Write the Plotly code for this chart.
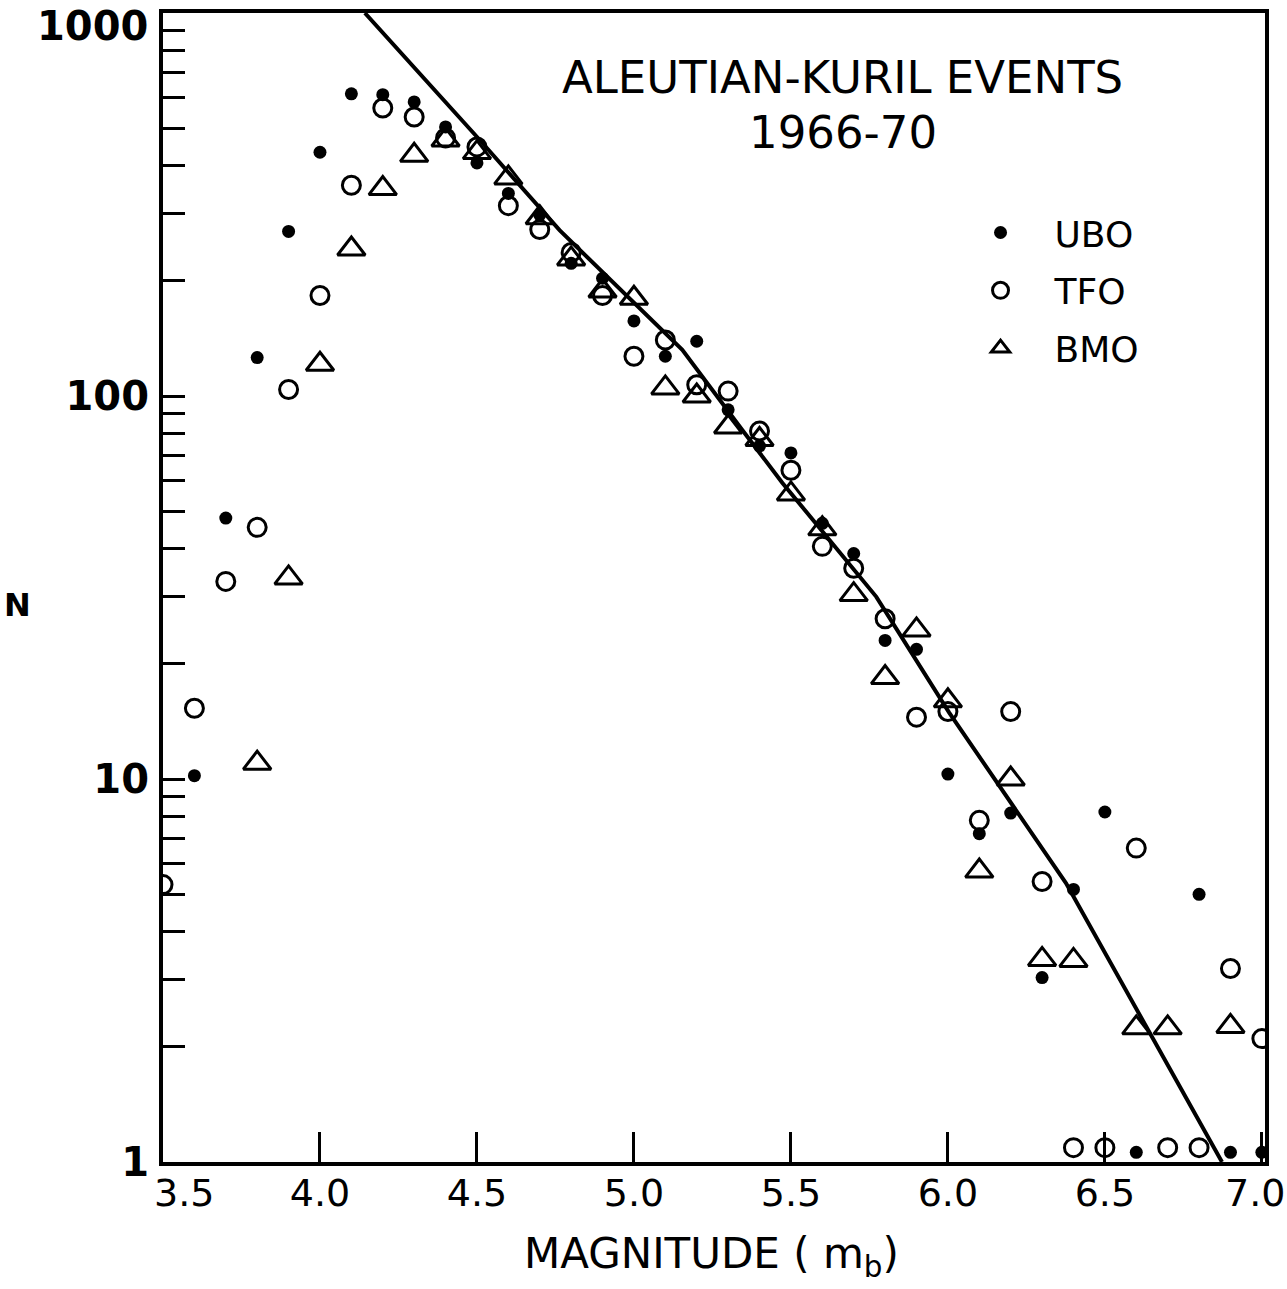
import plotly.graph_objects as go

# ---- data ----
ubo_m = [3.6, 3.7, 3.8, 3.9, 4.0, 4.1, 4.2, 4.3, 4.4, 4.5, 4.6, 4.7, 4.8, 4.9, 5.0, 5.1, 5.2,
         5.3, 5.4, 5.5, 5.6, 5.7, 5.8, 5.9, 6.0, 6.1, 6.2, 6.3, 6.4, 6.5, 6.6, 6.8, 6.9, 7.0]
ubo_n = [10.2, 48, 126, 269, 433, 615, 612, 586, 504, 406, 338, 297, 222, 203, 157, 127, 139,
         92, 74, 71, 46.5, 38.8, 23, 21.8, 10.3, 7.2, 8.15, 3.03, 5.15, 8.2, 1.06, 5.0, 1.06, 1.06]

tfo_m = [3.5, 3.6, 3.7, 3.8, 3.9, 4.0, 4.1, 4.2, 4.3, 4.4, 4.5, 4.6, 4.7, 4.8, 4.9, 5.0, 5.1, 5.2,
         5.3, 5.4, 5.5, 5.6, 5.7, 5.8, 5.9, 6.0, 6.1, 6.2, 6.3, 6.4, 6.5, 6.6, 6.7, 6.8, 6.9, 7.0]
tfo_n = [5.3, 15.3, 32.8, 45.4, 104, 183, 355, 565, 535, 472, 447, 314, 272, 237, 183, 127, 140, 107,
         103, 81, 64, 40.5, 35.5, 26.2, 14.5, 15, 7.8, 15, 5.4, 1.09, 1.09, 6.6, 1.09, 1.09, 3.2, 2.1]

bmo_m = [3.8, 3.9, 4.0, 4.1, 4.2, 4.3, 4.4, 4.5, 4.6, 4.7, 4.8, 4.9, 5.0, 5.1, 5.2, 5.3, 5.4, 5.5,
         5.6, 5.7, 5.8, 5.9, 6.0, 6.1, 6.2, 6.3, 6.4, 6.6, 6.7, 6.9]
bmo_n = [11.0, 33.5, 121, 242, 348, 425, 466, 432, 371, 292, 228, 188, 180, 105, 100, 83, 77, 55.5,
         45, 30.3, 18.4, 24.5, 16.0, 5.75, 10.0, 3.38, 3.36, 2.24, 2.24, 2.26]

fit_m = [4.143, 4.509, 4.763, 5.154, 5.345, 5.473, 5.772, 6.004, 6.376, 6.873]
fit_n = [1000, 466, 271, 132, 81.5, 59.3, 29.9, 14.9, 5.35, 1.0]

x_ticks = [3.5, 4.0, 4.5, 5.0, 5.5, 6.0, 6.5, 7.0]
x_tick_labels = ["", "4.0", "4.5", "5.0", "5.5", "6.0", "6.5", ""]
x_first_label = "3.5"
x_last_label = "7.0"
y_ticks = [1, 2, 3, 4, 5, 6, 7, 8, 9, 10, 20, 30, 40, 50, 60, 70, 80, 90, 100,
           200, 300, 400, 500, 600, 700, 800, 900, 1000]
y_major = {1: "1", 10: "10", 100: "100"}
y_top_label = "1000"

title_line1 = "ALEUTIAN-KURIL EVENTS"
title_line2 = "1966-70"

# ---- figure ----
fig = go.Figure()

fig.add_trace(go.Scatter(x=fit_m, y=fit_n, mode="lines",
                         line=dict(color="black", width=4), showlegend=False,
                         hoverinfo="skip"))

fig.add_trace(go.Scatter(x=ubo_m, y=ubo_n, mode="markers", name="UBO", legendgroup="a",
                         marker=dict(symbol="circle", size=13, color="black",
                                     line=dict(width=0))))
fig.add_trace(go.Scatter(x=tfo_m, y=tfo_n, mode="markers", name="TFO", legendgroup="b",
                         marker=dict(symbol="circle-open", size=18, color="black",
                                     line=dict(width=3, color="black"))))
fig.add_trace(go.Scatter(x=bmo_m, y=bmo_n, mode="markers", name="BMO", legendgroup="c",
                         marker=dict(symbol="triangle-up-open", size=24, color="black",
                                     line=dict(width=3, color="black"))))

tick_font = dict(family="DejaVu Sans", size=38, color="black")
ytick_font = dict(family="DejaVu Sans", size=40, color="black", weight="bold")

fig.update_xaxes(range=[3.5, 7.01], tickmode="array", tickvals=x_ticks, ticktext=x_tick_labels,
                 ticks="inside", ticklen=30, tickwidth=3, tickcolor="black",
                 showline=True, linewidth=4, linecolor="black", mirror=True,
                 showgrid=False, zeroline=False, tickfont=tick_font, ticklabelstandoff=-6,
                 ticklabeloverflow="allow", automargin=False)

fig.update_yaxes(type="log", range=[0, 3], tickmode="array", tickvals=y_ticks,
                 ticktext=[y_major.get(v, "") for v in y_ticks],
                 ticks="inside", ticklen=22, tickwidth=3, tickcolor="black",
                 showline=True, linewidth=4, linecolor="black", mirror=True,
                 showgrid=False, zeroline=False, ticklabelstandoff=2,
                 ticklabeloverflow="allow", automargin=False, tickfont=ytick_font)

# edge tick labels nudged inward as in the reference
fig.add_annotation(text=x_first_label, x=x_ticks[0], y=0, xref="x", yref="paper",
                   xshift=21, yshift=-31, showarrow=False, font=tick_font,
                   xanchor="center", yanchor="middle")
fig.add_annotation(text=x_last_label, x=x_ticks[-1], y=0, xref="x", yref="paper",
                   xshift=-7, yshift=-31, showarrow=False, font=tick_font,
                   xanchor="center", yanchor="middle")
fig.add_annotation(text=y_top_label, x=0, y=3, xref="paper", yref="y",
                   xshift=-13, yshift=-13, showarrow=False, font=ytick_font,
                   xanchor="right", yanchor="middle")

label_font = dict(family="DejaVu Sans", size=45, color="black")

fig.add_annotation(text=title_line1, x=0.617, y=0.944, xref="paper", yref="paper",
                   showarrow=False, font=label_font, xanchor="center", yanchor="middle")
fig.add_annotation(text=title_line2, x=0.617, y=0.896, xref="paper", yref="paper",
                   showarrow=False, font=label_font, xanchor="center", yanchor="middle")
fig.add_annotation(text="N", x=-0.132, y=0.485, xref="paper", yref="paper",
                   showarrow=False, font=dict(family="DejaVu Sans", size=32, color="black",
                                              weight="bold"),
                   xanchor="center", yanchor="middle")
fig.add_annotation(text="MAGNITUDE ( m<sub>b</sub>)", x=0.498, y=-0.082, xref="paper",
                   yref="paper", showarrow=False,
                   font=dict(family="DejaVu Sans", size=42, color="black"),
                   xanchor="center", yanchor="middle")

fig.update_layout(
    width=1287, height=1289,
    margin=dict(l=163, r=22, t=13, b=127, autoexpand=False),
    paper_bgcolor="white", plot_bgcolor="white",
    showlegend=True,
    legend=dict(x=0.711, y=0.835, xanchor="left", yanchor="top",
                font=dict(family="DejaVu Sans", size=36, color="black"),
                bgcolor="rgba(0,0,0,0)", tracegroupgap=8, itemwidth=98),
)

fig.write_html("out.html")
